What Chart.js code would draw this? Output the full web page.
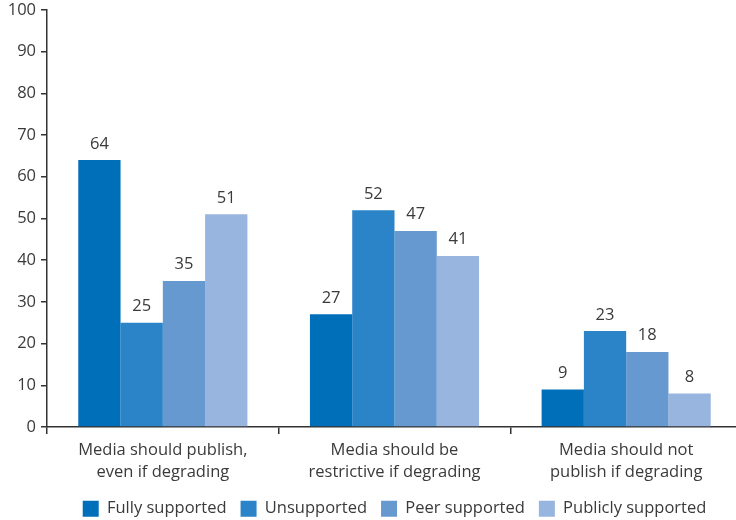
<!DOCTYPE html>
<html>
<head>
<meta charset="utf-8">
<script src="https://cdn.jsdelivr.net/npm/chart.js@4/dist/chart.umd.min.js"></script>
<style>
  html, body { margin: 0; padding: 0; background: #fff; }
  #frame { width: 736px; height: 520px; overflow: hidden; }
  #wrap { width: 742px; height: 520px; }
</style>
</head>
<body>
<div id="frame"><div id="wrap"><canvas id="c"></canvas></div></div>
<script>
const categories = [
  ['Media should publish,', 'even if degrading'],
  ['Media should be', 'restrictive if degrading'],
  ['Media should not', 'publish if degrading']
];
const seriesNames = ['Fully supported', 'Unsupported', 'Peer supported', 'Publicly supported'];
const fullySupported = [64, 27, 9];
const unsupported = [25, 52, 23];
const peerSupported = [35, 47, 18];
const publiclySupported = [51, 41, 8];
const yTicks = [0, 10, 20, 30, 40, 50, 60, 70, 80, 90, 100];

const colors = ['#006fb9', '#2b83c8', '#6699cf', '#97b5de'];
const FONT = "'Open Sans', 'Noto Sans', sans-serif";
const TEXT = '#3a3a3a';
const FS = 16.5;

// Prints each bar's value just above it
const valueLabels = {
  id: 'valueLabels',
  afterDatasetsDraw(chart) {
    const ctx = chart.ctx;
    ctx.save();
    ctx.font = FS + 'px ' + FONT;
    ctx.fillStyle = TEXT;
    ctx.textAlign = 'center';
    ctx.textBaseline = 'bottom';
    chart.data.datasets.forEach((ds, i) => {
      chart.getDatasetMeta(i).data.forEach((bar, j) => {
        ctx.fillText(String(ds.data[j]), bar.x, bar.y - 8);
      });
    });
    ctx.restore();
  }
};

const seriesData = [fullySupported, unsupported, peerSupported, publiclySupported];

new Chart(document.getElementById('c'), {
  type: 'bar',
  data: {
    labels: categories,
    datasets: seriesNames.map((name, i) => ({
      label: name,
      data: seriesData[i],
      backgroundColor: colors[i],
      borderWidth: 0,
      barPercentage: 1.0,
      categoryPercentage: 0.73
    }))
  },
  options: {
    responsive: true,
    maintainAspectRatio: false,
    animation: false,
    layout: { padding: { top: 0, right: 0, left: 0, bottom: -7 } },
    plugins: {
      tooltip: { enabled: false },
      legend: {
        position: 'bottom',
        fullSize: false,
        labels: {
          boxWidth: 16,
          boxHeight: 16,
          padding: 14,
          color: TEXT,
          font: { family: FONT, size: FS }
        }
      }
    },
    scales: {
      x: {
        afterFit(scale) { scale.height -= 2; },
        border: { display: true, color: '#333', width: 1.5 },
        grid: {
          display: true,
          offset: true,
          drawOnChartArea: false,
          drawTicks: true,
          tickLength: 7,
          color: '#333',
          lineWidth: 1.5
        },
        ticks: {
          color: TEXT,
          font: { family: FONT, size: FS, lineHeight: 1.35 },
          padding: 5,
          maxRotation: 0
        }
      },
      y: {
        min: 0,
        max: 100,
        afterBuildTicks(scale) {
          scale.ticks = yTicks.map(v => ({ value: v }));
        },
        afterFit(scale) {
          scale.width = 47;
          scale.paddingTop = 10;
        },
        border: { display: true, color: '#333', width: 1.5 },
        grid: {
          display: true,
          drawOnChartArea: false,
          drawTicks: true,
          tickLength: 6,
          color: '#333',
          lineWidth: 1.5
        },
        ticks: {
          color: TEXT,
          font: { family: FONT, size: FS, lineHeight: 1.0 },
          padding: 5
        }
      }
    }
  },
  plugins: [valueLabels]
});
</script>
</body>
</html>
